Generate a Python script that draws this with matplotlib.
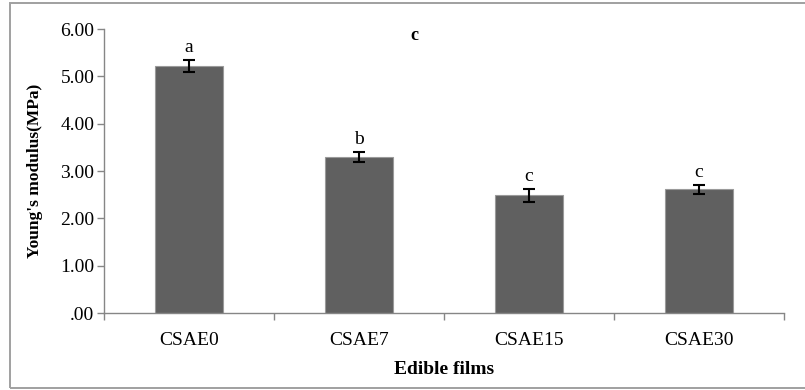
import matplotlib

matplotlib.use("Agg")

import matplotlib.pyplot as plt
from matplotlib.patches import Rectangle
from matplotlib.ticker import FixedLocator, FuncFormatter

films = ["CSAE0", "CSAE7", "CSAE15", "CSAE30"]
modulus = [5.22, 3.29, 2.49, 2.61]
modulus_err = [0.13, 0.11, 0.14, 0.10]
letters = ["a", "b", "c", "c"]

plt.rcParams["font.family"] = ["Liberation Serif", "DejaVu Serif"]

fig = plt.figure(figsize=(8.05, 3.9), dpi=100)
ax = fig.add_axes([104 / 805, 1 - 313 / 390, 680 / 805, 284 / 390])

# light grey frame around the chart (right edge runs off the image)
fig.patches.append(Rectangle((10 / 805, 2 / 390), 810 / 805, 385 / 390,
                             transform=fig.transFigure, fill=False,
                             edgecolor="#a0a0a0", linewidth=1.4))

x = list(range(len(films)))
ax.bar(x, modulus, width=0.4, color="#606060", edgecolor="#9a9a9a",
       linewidth=0.8, zorder=2)
ax.errorbar(x, modulus, yerr=modulus_err, fmt="none", ecolor="black",
            elinewidth=1.5, capsize=4.3, capthick=1.5, zorder=3)
for xi, v, e, lab in zip(x, modulus, modulus_err, letters):
    ax.text(xi, v + e + 0.08, lab, ha="center", va="bottom", fontsize=14)

ax.set_xlim(-0.5, len(films) - 0.5)
ax.set_ylim(0, 6)
ax.set_yticks([0, 1, 2, 3, 4, 5, 6])
ax.yaxis.set_major_formatter(
    FuncFormatter(lambda v, _: ".00" if v == 0 else f"{v:.2f}"))
ax.set_xticks(x)
ax.set_xticklabels(films)
ax.xaxis.set_minor_locator(FixedLocator([i + 0.5 for i in range(-1, len(films))]))
ax.tick_params(axis="x", which="major", length=0, pad=14, labelsize=14)
ax.tick_params(axis="x", which="minor", length=5, color="#868686", width=1)
ax.tick_params(axis="y", length=5, color="#868686", width=1, labelsize=14, pad=2)

for side in ["top", "right"]:
    ax.spines[side].set_visible(False)
for side in ["left", "bottom"]:
    ax.spines[side].set_color("#868686")
    ax.spines[side].set_linewidth(1)

ax.set_ylabel("Young's modulus(MPa)", fontsize=12.5, fontweight="bold", labelpad=12)
ax.set_xlabel("Edible films", fontsize=14, fontweight="bold", labelpad=8)
fig.text(414 / 805, 1 - 36 / 390, "c", ha="center", va="center",
         fontsize=13, fontweight="bold")

fig.savefig("out.png", dpi=100)
plt.close(fig)
